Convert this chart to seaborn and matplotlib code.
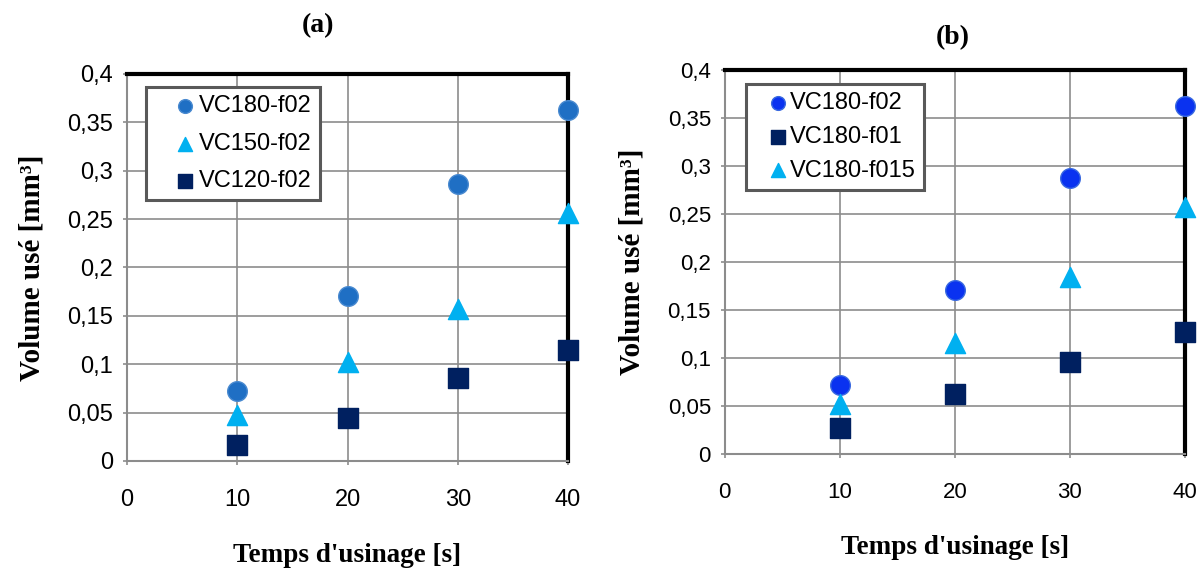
import numpy as np
import pandas as pd
import matplotlib
matplotlib.use('Agg')
import matplotlib.pyplot as plt
import seaborn as sns
from matplotlib.ticker import FuncFormatter

# Data
temps = [10, 20, 30, 40]

# (a) effect of cutting speed
vc180_f02_a = [0.072, 0.170, 0.286, 0.363]
vc150_f02 = [0.047, 0.102, 0.157, 0.256]
vc120_f02 = [0.016, 0.044, 0.086, 0.115]

# (b) effect of feed
vc180_f02_b = [0.072, 0.171, 0.287, 0.363]
vc180_f01 = [0.027, 0.063, 0.096, 0.127]
vc180_f015 = [0.052, 0.116, 0.184, 0.257]

yticks = [0, 0.05, 0.1, 0.15, 0.2, 0.25, 0.3, 0.35, 0.4]
xticks = [0, 10, 20, 30, 40]

sns.set_style("white")
plt.rcParams['font.family'] = ['Liberation Sans', 'DejaVu Sans']
plt.rcParams['text.color'] = 'black'
plt.rcParams['axes.labelcolor'] = 'black'
plt.rcParams['xtick.color'] = 'black'
plt.rcParams['ytick.color'] = 'black'

fig = plt.figure(figsize=(12.04, 5.69), dpi=100)
ax_a = fig.add_axes([0.1055, 0.190, 0.3663, 0.680])
ax_b = fig.add_axes([0.602, 0.202, 0.382, 0.675])

serif = ['Liberation Serif', 'DejaVu Serif']


def comma_fmt(v, pos):
    s = f"{v:.2f}".rstrip('0').rstrip('.')
    return s.replace('.', ',')


def style_axes(ax, title, title_x, title_y, tsize):
    ax.set_xlim(0, 40)
    ax.set_ylim(0, 0.4)
    ax.set_xticks(xticks)
    ax.set_yticks(yticks)
    ax.yaxis.set_major_formatter(FuncFormatter(comma_fmt))
    ax.grid(True, color='#8c8c8c', linewidth=1.2)
    ax.set_axisbelow(True)
    for side in ['top', 'right']:
        ax.spines[side].set_color('black')
        ax.spines[side].set_linewidth(3)
    for side in ['left', 'bottom']:
        ax.spines[side].set_color('#8c8c8c')
        ax.spines[side].set_linewidth(1.5)
    ax.tick_params(axis='both', direction='out', length=3, width=1.2,
                   color='#8c8c8c', labelcolor='black', labelsize=tsize,
                   left=True, bottom=True)
    ax.tick_params(axis='x', pad=17)
    ax.tick_params(axis='y', pad=7)
    ax.set_xlabel("Temps d'usinage [s]", fontsize=19.5, fontweight='bold',
                  family=serif, labelpad=23, color='black')
    ax.set_ylabel("Volume usé [mm³]", fontsize=21, fontweight='bold',
                  family=serif, labelpad=16, color='black')
    ax.text(title_x, title_y, title, transform=ax.transAxes, ha='center',
            va='center', fontsize=20, fontweight='bold', family=serif)


def draw(ax, y, marker, color, label, size, edge):
    sns.scatterplot(x=temps, y=y, ax=ax, marker=marker, color=color, s=size,
                    edgecolor=edge, linewidth=1, label=label, clip_on=False, zorder=5)


draw(ax_a, vc180_f02_a, 'o', '#1f6fc4', 'VC180-f02', 200, '#4a8ad0')
draw(ax_a, vc150_f02, '^', '#00b0f0', 'VC150-f02', 210, '#00b0f0')
draw(ax_a, vc120_f02, 's', '#002060', 'VC120-f02', 190, '#002060')
style_axes(ax_a, '(a)', 0.433, 1.125, 17)

draw(ax_b, vc180_f02_b, 'o', '#0a32f0', 'VC180-f02', 200, '#3a6ae0')
draw(ax_b, vc180_f01, 's', '#002060', 'VC180-f01', 190, '#002060')
draw(ax_b, vc180_f015, '^', '#00b0f0', 'VC180-f015', 210, '#00b0f0')
style_axes(ax_b, '(b)', 0.496, 1.083, 16)

leg_opts = [
    (ax_a, (0.043, 0.966), 0.65, 2.6, -0.7),
    (ax_b, (0.046, 0.964), 0.5, 2.0, -0.5),
]
for ax, anchor, spacing, hlen, tpad in leg_opts:
    leg = ax.legend(loc='upper left', bbox_to_anchor=anchor, fontsize=17,
                    frameon=True, fancybox=False, markerscale=0.7,
                    handletextpad=tpad, labelspacing=spacing, borderpad=0.35,
                    handlelength=hlen, borderaxespad=0)
    leg.get_frame().set_edgecolor('#595959')
    leg.get_frame().set_linewidth(2.2)
    leg.get_frame().set_alpha(1)

fig.savefig('out.png', dpi=100)
